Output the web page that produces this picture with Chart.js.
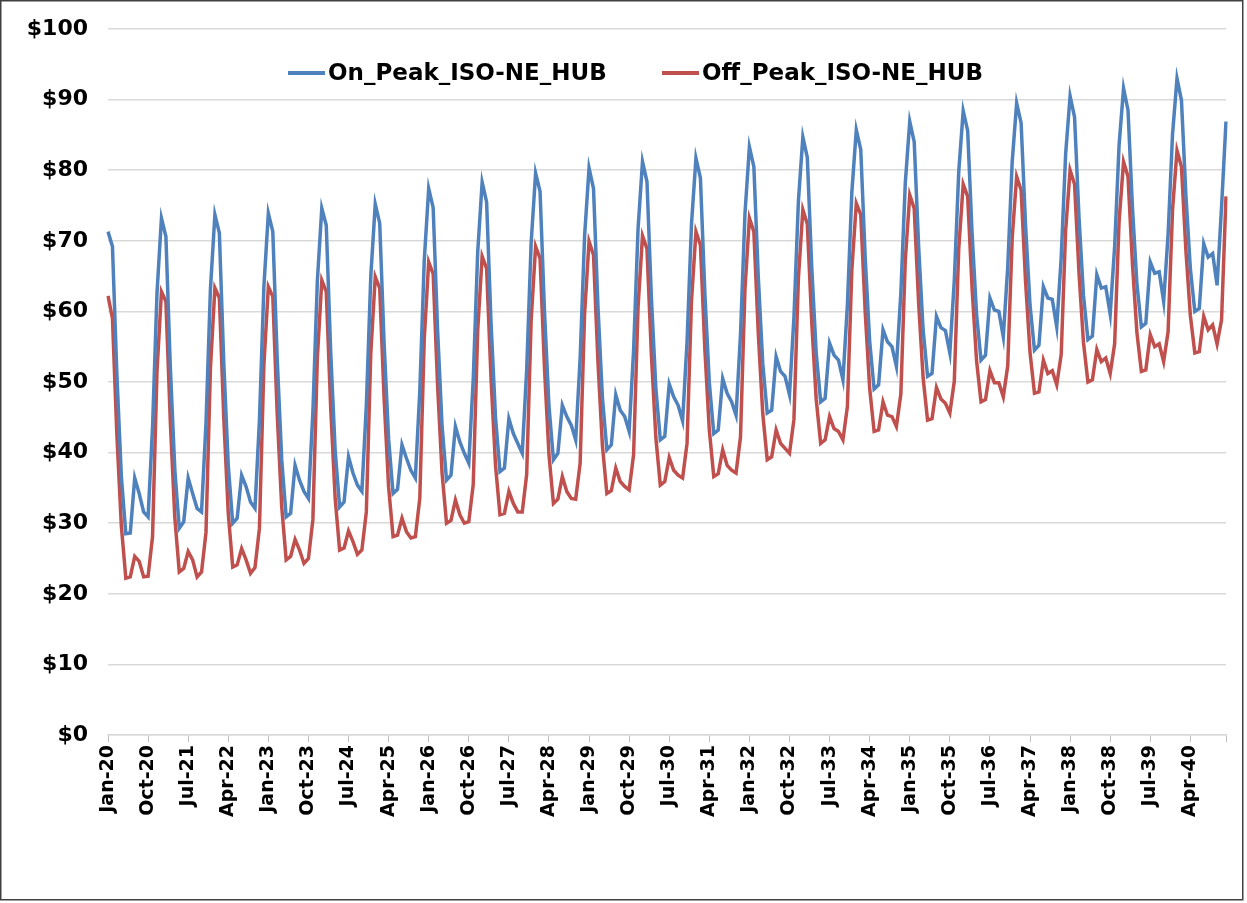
<!DOCTYPE html>
<html>
<head>
<meta charset="utf-8">
<script src="https://cdn.jsdelivr.net/npm/chart.js@4.4.0/dist/chart.umd.min.js"></script>
<style>
  html, body { margin: 0; padding: 0; background: #fff; }
  canvas { display: block; }
</style>
</head>
<body>
<canvas id="chart" width="1247" height="903"></canvas>
<script>
// monthly categories Jan-20 .. Dec-40
const monthNames = ["Jan", "Feb", "Mar", "Apr", "May", "Jun", "Jul", "Aug", "Sep", "Oct", "Nov", "Dec"];
const years = ["20", "21", "22", "23", "24", "25", "26", "27", "28", "29", "30",
               "31", "32", "33", "34", "35", "36", "37", "38", "39", "40"];
const labels = [];
years.forEach(y => monthNames.forEach(m => labels.push(m + "-" + y)));

// $/MWh, one row per year (Jan..Dec)
const onPeak = [
  71.3, 69.2, 50.9, 36.6, 28.5, 28.6, 36.4, 34.2, 31.6, 30.9, 43.6, 62.6,
  73.2, 70.6, 52.0, 37.6, 29.3, 30.2, 36.4, 34.2, 32.1, 31.6, 44.2, 63.2,
  73.7, 71.1, 52.6, 38.2, 30.0, 30.7, 36.8, 35.2, 33.0, 32.1, 44.6, 63.5,
  73.9, 71.3, 53.1, 39.0, 30.9, 31.4, 38.2, 36.1, 34.5, 33.5, 45.8, 64.3,
  74.6, 72.2, 54.2, 40.3, 32.3, 33.0, 39.4, 37.1, 35.4, 34.5, 46.7, 65.0,
  75.2, 72.5, 55.3, 41.9, 34.2, 34.8, 41.1, 39.2, 37.5, 36.4, 48.7, 67.2,
  77.4, 74.7, 57.3, 43.8, 36.1, 36.8, 43.7, 41.5, 39.9, 38.5, 50.4, 68.4,
  78.3, 75.5, 58.3, 45.0, 37.3, 37.8, 44.8, 42.7, 41.3, 39.9, 51.8, 69.7,
  79.6, 77.0, 59.9, 46.6, 39.0, 39.9, 46.7, 45.1, 43.9, 41.8, 53.4, 70.7,
  80.3, 77.4, 60.7, 47.8, 40.4, 41.1, 48.2, 46.0, 45.1, 43.0, 54.5, 71.7,
  81.2, 78.4, 61.9, 49.1, 41.8, 42.3, 49.7, 47.9, 46.7, 44.5, 55.7, 72.4,
  81.7, 78.9, 62.6, 49.9, 42.7, 43.2, 50.5, 48.4, 47.2, 45.3, 56.7, 73.8,
  83.3, 80.5, 64.8, 52.6, 45.6, 46.0, 53.6, 51.5, 50.8, 48.2, 59.2, 75.6,
  84.7, 81.8, 66.2, 54.1, 47.2, 47.7, 55.5, 53.8, 53.1, 50.3, 60.9, 76.9,
  85.7, 82.9, 67.6, 55.8, 49.0, 49.6, 57.4, 55.7, 55.0, 52.2, 62.6, 78.2,
  86.9, 84.0, 69.1, 57.4, 50.8, 51.2, 59.3, 57.7, 57.3, 54.1, 64.4, 79.8,
  88.4, 85.6, 71.0, 59.6, 53.1, 53.8, 61.9, 60.2, 60.0, 56.4, 66.3, 81.2,
  89.5, 86.7, 72.2, 60.9, 54.5, 55.2, 63.5, 61.9, 61.7, 57.8, 67.6, 82.3,
  90.5, 87.5, 73.3, 62.3, 56.0, 56.5, 65.2, 63.3, 63.5, 59.6, 69.2, 83.6,
  91.6, 88.5, 74.7, 63.9, 57.8, 58.3, 67.0, 65.4, 65.6, 61.4, 70.9, 85.1,
  93.0, 89.9, 76.4, 66.0, 60.0, 60.4, 69.6, 67.7, 68.2, 63.7, 74.8, 86.9
];

const offPeak = [
  62.2, 59.0, 42.4, 29.6, 22.2, 22.4, 25.3, 24.6, 22.4, 22.5, 28.1, 51.5,
  62.8, 61.4, 44.2, 30.8, 23.1, 23.6, 26.0, 24.8, 22.4, 23.1, 28.7, 52.0,
  63.3, 61.9, 44.8, 31.4, 23.8, 24.1, 26.4, 24.8, 22.9, 23.7, 29.3, 52.4,
  63.5, 62.1, 45.3, 32.3, 24.8, 25.3, 27.7, 26.2, 24.3, 25.0, 30.5, 53.4,
  64.4, 62.8, 46.3, 33.5, 26.2, 26.5, 28.9, 27.4, 25.6, 26.2, 31.6, 54.1,
  64.9, 63.3, 47.5, 35.1, 28.1, 28.3, 30.7, 28.8, 27.9, 28.1, 33.5, 56.1,
  67.0, 65.3, 49.4, 37.1, 30.0, 30.4, 33.3, 31.2, 30.0, 30.2, 35.5, 57.3,
  67.8, 66.1, 50.4, 38.2, 31.2, 31.4, 34.5, 32.8, 31.6, 31.6, 36.9, 58.7,
  69.2, 67.5, 51.9, 39.7, 32.8, 33.4, 36.6, 34.5, 33.5, 33.4, 38.5, 59.7,
  69.9, 68.0, 52.8, 41.0, 34.2, 34.6, 37.8, 35.9, 35.2, 34.7, 39.7, 60.6,
  70.7, 68.9, 53.8, 42.1, 35.4, 35.9, 39.3, 37.5, 36.8, 36.4, 41.3, 61.5,
  71.3, 69.4, 54.6, 43.2, 36.6, 37.0, 40.4, 38.2, 37.5, 37.1, 42.2, 63.1,
  73.2, 71.3, 56.8, 45.5, 39.0, 39.4, 43.2, 41.3, 40.6, 39.9, 44.7, 64.7,
  74.4, 72.4, 58.4, 47.5, 41.3, 41.8, 45.1, 43.4, 43.0, 41.8, 46.5, 65.9,
  75.3, 73.7, 59.9, 49.1, 43.0, 43.2, 47.2, 45.3, 45.1, 43.7, 48.3, 67.3,
  76.5, 74.6, 61.1, 50.6, 44.6, 44.8, 49.2, 47.6, 47.0, 45.6, 50.1, 68.9,
  78.0, 76.3, 63.2, 53.0, 47.2, 47.5, 51.6, 49.9, 49.9, 47.9, 52.3, 70.4,
  79.1, 77.2, 64.2, 54.2, 48.4, 48.6, 53.1, 51.2, 51.6, 49.6, 53.9, 71.5,
  80.0, 78.0, 65.4, 55.6, 50.0, 50.3, 54.6, 52.9, 53.4, 51.2, 55.4, 72.8,
  81.2, 79.1, 66.7, 57.0, 51.5, 51.7, 56.7, 55.0, 55.4, 52.9, 57.1, 74.4,
  82.8, 80.5, 68.6, 59.4, 54.1, 54.3, 59.3, 57.4, 58.1, 55.4, 58.8, 76.3
];

const labelEvery = 9;   // one x label every 9 months
const fontFace = "'DejaVu Sans', sans-serif";

// white page + thin frame
const framePlugin = {
  id: "frame",
  beforeDraw(chart) {
    const c = chart.ctx;
    c.save();
    c.fillStyle = "#fff";
    c.fillRect(0, 0, chart.width, chart.height);
    c.strokeStyle = "#404040";
    c.lineWidth = 1.5;
    c.strokeRect(0.75, 0.75, 1242, 899);
    c.restore();
  }
};

// legend drawn inside the plot, like the original
const legendPlugin = {
  id: "insideLegend",
  afterDraw(chart) {
    const c = chart.ctx;
    const spots = [288, 662];
    c.save();
    c.font = "bold 23px " + fontFace;
    c.textBaseline = "middle";
    chart.data.datasets.forEach((ds, i) => {
      const x = spots[i], y = 73;
      c.strokeStyle = ds.borderColor;
      c.lineWidth = 4;
      c.beginPath();
      c.moveTo(x, y);
      c.lineTo(x + 37, y);
      c.stroke();
      c.fillStyle = "#000";
      c.fillText(ds.label, x + 40, y + 1);
    });
    c.restore();
  }
};

new Chart(document.getElementById("chart").getContext("2d"), {
  type: "line",
  data: {
    labels: labels,
    datasets: [
      {
        label: "On_Peak_ISO-NE_HUB",
        data: onPeak,
        borderColor: "#4F81BD",
        borderWidth: 3.5,
        pointRadius: 0,
        tension: 0,
        fill: false
      },
      {
        label: "Off_Peak_ISO-NE_HUB",
        data: offPeak,
        borderColor: "#C0504D",
        borderWidth: 3.5,
        pointRadius: 0,
        tension: 0,
        fill: false
      }
    ]
  },
  options: {
    responsive: false,
    animation: false,
    devicePixelRatio: 1,
    layout: { padding: { top: 29, right: 21, bottom: 0, left: 0 } },
    plugins: {
      legend: { display: false },
      tooltip: { enabled: false }
    },
    scales: {
      x: {
        type: "category",
        offset: false,
        afterFit(scale) {
          scale.height = 168;
          scale.paddingLeft = 0;
          scale.paddingRight = 0;
        },
        grid: {
          drawOnChartArea: false,
          drawTicks: true,
          tickLength: 7,
          color: "#bfbfbf",
          lineWidth: 1
        },
        border: { display: true, color: "#d9d9d9", width: 1.5 },
        ticks: {
          autoSkip: false,
          maxRotation: 90,
          minRotation: 90,
          padding: 3,
          color: "#000",
          font: { family: fontFace, weight: "bold", size: 19 },
          callback(value, index) {
            if (index % labelEvery === 0) return labels[index];
            if (index === labels.length - 1) return "";
            return null;
          }
        }
      },
      y: {
        min: 0,
        max: 100,
        afterFit(scale) {
          scale.width = 108;
          scale.paddingTop = 0;
          scale.paddingBottom = 0;
        },
        grid: {
          color: "#d9d9d9",
          lineWidth: 1.5,
          drawTicks: false
        },
        border: { display: false },
        ticks: {
          stepSize: 10,
          padding: 20,
          color: "#000",
          font: { family: fontFace, weight: "bold", size: 22 },
          callback: v => "$" + v
        }
      }
    }
  },
  plugins: [framePlugin, legendPlugin]
});
</script>
</body>
</html>
